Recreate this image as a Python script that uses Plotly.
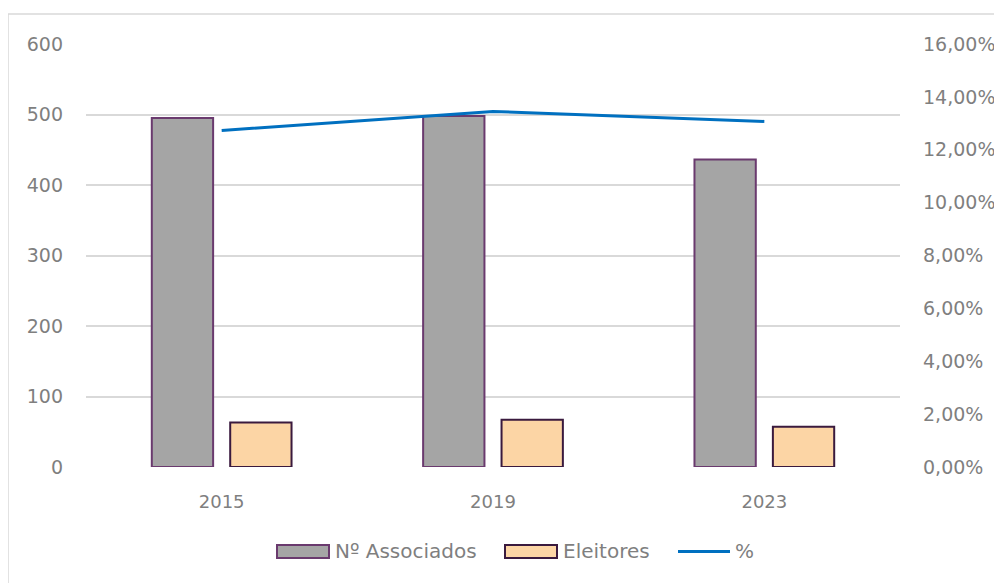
import plotly.graph_objects as go

years = ["2015", "2019", "2023"]
associados = [495, 498, 436]
eleitores = [63, 67, 57]
percent = [0.1273, 0.1345, 0.1307]

left_ticks = [0, 100, 200, 300, 400, 500, 600]
right_ticks = [0, 0.02, 0.04, 0.06, 0.08, 0.10, 0.12, 0.14, 0.16]
right_labels = ["0,00%", "2,00%", "4,00%", "6,00%", "8,00%", "10,00%", "12,00%", "14,00%", "16,00%"]

FONT = "DejaVu Sans, sans-serif"
TXT = "#7F7F7F"
GRAY_FILL, GRAY_LINE = "#A5A5A5", "#6A3A6E"
PEACH_FILL, PEACH_LINE = "#FCD5A5", "#3A1A3E"
BLUE = "#0070C0"

W, H = 1002, 583
OFF = 8  # page body margin
# plot area in page pixels
PL, PR, PT, PB = 86, 900, 44, 467
PW, PH = PR - PL, PB - PT


def px(x):
    return (x - PL) / PW


def py(y):
    return (PB - y) / PH


fig = go.Figure()
fig.add_trace(go.Bar(
    x=years, y=associados, name="Nº Associados",
    marker=dict(color=GRAY_FILL, line=dict(color=GRAY_LINE, width=2)),
))
fig.add_trace(go.Bar(
    x=years, y=eleitores, name="Eleitores",
    marker=dict(color=PEACH_FILL, line=dict(color=PEACH_LINE, width=2)),
))
fig.add_trace(go.Scatter(
    x=years, y=percent, name="%", yaxis="y2", mode="lines",
    line=dict(color=BLUE, width=3),
))

shapes = [
    dict(type="rect", xref="paper", yref="paper",
         x0=px(8), x1=px(1020), y0=py(600), y1=py(14),
         line=dict(color="#D9D9D9", width=1.5), fillcolor="rgba(0,0,0,0)", layer="below"),
    dict(type="rect", xref="paper", yref="paper", x0=px(277), x1=px(329), y0=py(558), y1=py(545),
         fillcolor=GRAY_FILL, line=dict(color=GRAY_LINE, width=2)),
    dict(type="rect", xref="paper", yref="paper", x0=px(505), x1=px(557), y0=py(558), y1=py(545),
         fillcolor=PEACH_FILL, line=dict(color=PEACH_LINE, width=2)),
    dict(type="line", xref="paper", yref="paper", x0=px(678), x1=px(730), y0=py(551.5), y1=py(551.5),
         line=dict(color=BLUE, width=3)),
]
annotations = [
    dict(text="Nº Associados", x=px(333), y=py(551), xref="paper", yref="paper",
         xanchor="left", yanchor="middle", showarrow=False, font=dict(size=20, color=TXT)),
    dict(text="Eleitores", x=px(561), y=py(551), xref="paper", yref="paper",
         xanchor="left", yanchor="middle", showarrow=False, font=dict(size=20, color=TXT)),
    dict(text="%", x=px(733), y=py(551), xref="paper", yref="paper",
         xanchor="left", yanchor="middle", showarrow=False, font=dict(size=20, color=TXT)),
]

fig.update_layout(
    width=W, height=H,
    paper_bgcolor="white", plot_bgcolor="white",
    margin=dict(l=PL - OFF, r=W + OFF - PR, t=PT - OFF, b=H + OFF - PB),
    barmode="group", bargap=0.422, bargroupgap=0.218,
    font=dict(family=FONT, color=TXT, size=18),
    showlegend=False,
    xaxis=dict(showgrid=False, showline=False, ticks="", ticklabelstandoff=22, automargin=False,
               tickfont=dict(size=18, color=TXT)),
    yaxis=dict(range=[0, 600], tickvals=left_ticks, showgrid=True, gridcolor="#D9D9D9",
               gridwidth=1.5, zeroline=False, showline=False, ticks="", ticklabelstandoff=22,
               automargin=False, tickfont=dict(size=19, color=TXT)),
    yaxis2=dict(range=[0, 0.16], overlaying="y", side="right", tickvals=right_ticks,
                ticktext=right_labels, showgrid=False, zeroline=False, showline=False,
                ticks="", ticklabelstandoff=22, automargin=False, tickfont=dict(size=19, color=TXT)),
    shapes=shapes,
    annotations=annotations,
)

fig.write_html("out.html")
